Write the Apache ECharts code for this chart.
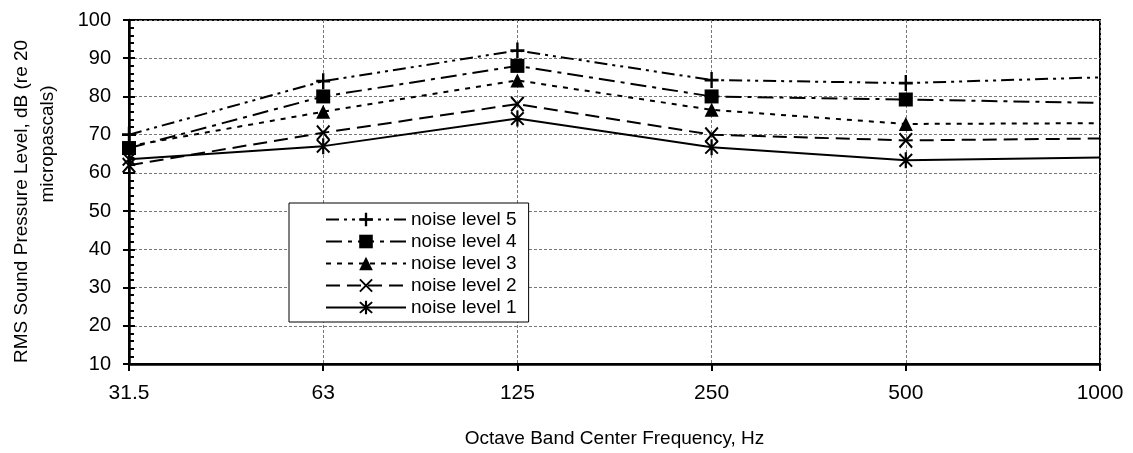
<!DOCTYPE html>
<html>
<head>
<meta charset="utf-8">
<script src="https://cdn.jsdelivr.net/npm/echarts@6/dist/echarts.min.js"></script>
<style>
html,body{margin:0;padding:0;background:#fff;}
#chart{width:1133px;height:453px;}
</style>
</head>
<body>
<div id="chart"></div>
<script>
const categories = ['31.5', '63', '125', '250', '500', '1000'];
const level5 = [70, 84, 92, 84.3, 83.5, 85];
const level4 = [66.5, 80, 88, 80, 79.2, 78.3];
const level3 = [67, 76, 84.2, 76.5, 72.8, 73];
const level2 = [62, 70.5, 78, 70, 68.5, 69];
const level1 = [63.6, 67, 74.2, 66.7, 63.3, 64];
const seriesNames = ['noise level 5', 'noise level 4', 'noise level 3', 'noise level 2', 'noise level 1'];
const yTicks = [10, 20, 30, 40, 50, 60, 70, 80, 90, 100];

const FONT = 'Liberation Sans, Arial, sans-serif';
const plusPath = 'path://M-1.2,-7L1.2,-7L1.2,-1.2L7,-1.2L7,1.2L1.2,1.2L1.2,7L-1.2,7L-1.2,1.2L-7,1.2L-7,-1.2L-1.2,-1.2Z';
const xPath = 'path://M-7,-5.6L-5.6,-7L0,-1.4L5.6,-7L7,-5.6L1.4,0L7,5.6L5.6,7L0,1.4L-5.6,7L-7,5.6L-1.4,0Z';
const starPath = 'path://M-7,-5.6L-5.6,-7L0,-1.4L5.6,-7L7,-5.6L1.4,0L7,5.6L5.6,7L0,1.4L-5.6,7L-7,5.6L-1.4,0Z M-1.1,-8L1.1,-8L1.1,8L-1.1,8Z';

function mk(vals) {
  return vals.map((v, i) => i === vals.length - 1 ? {value: v, symbol: 'none'} : v);
}
const seriesDefs = [
  {name: seriesNames[0], data: level5, symbol: plusPath, size: [14, 16], dash: [13, 5, 3, 5, 3, 5]},
  {name: seriesNames[1], data: level4, symbol: 'rect', size: 14, dash: [16, 6, 4, 6]},
  {name: seriesNames[2], data: level3, symbol: 'triangle', size: 14, dash: [5, 6]},
  {name: seriesNames[3], data: level2, symbol: xPath, size: [14, 16], dash: [14, 7]},
  {name: seriesNames[4], data: level1, symbol: starPath, size: [14, 16], dash: 'solid'}
];

const chart = echarts.init(document.getElementById('chart'), null, {renderer: 'canvas'});
chart.setOption({
  backgroundColor: '#fff',
  animation: false,
  grid: {left: 129, right: 33, top: 20, bottom: 88, show: true, borderColor: '#000', borderWidth: 2, backgroundColor: 'transparent'},
  legend: {
    orient: 'vertical', left: 289, top: 203,
    data: seriesNames,
    backgroundColor: '#fff', borderColor: '#000', borderWidth: 1,
    padding: [7, 12, 5, 36], itemGap: 3, itemWidth: 80, itemHeight: 17,
    textStyle: {fontFamily: FONT, fontSize: 19, color: '#000'}
  },
  xAxis: {
    type: 'category', data: categories, boundaryGap: false,
    axisLine: {lineStyle: {color: '#000', width: 2.5}},
    axisTick: {show: true, length: 7, lineStyle: {color: '#000', width: 2}},
    axisLabel: {fontFamily: FONT, fontSize: 21, color: '#000', margin: 19},
    splitLine: {show: true, lineStyle: {color: '#777', width: 1, type: [3, 2]}},
    name: 'Octave Band Center Frequency, Hz', nameLocation: 'middle', nameGap: 65,
    nameTextStyle: {fontFamily: FONT, fontSize: 19, color: '#000'}
  },
  yAxis: [
    {
      type: 'value', min: 10, max: 100, interval: 10,
      axisLine: {show: true, lineStyle: {color: '#000', width: 2.5}},
      axisTick: {show: true, length: 6, lineStyle: {color: '#000', width: 2}},
      axisLabel: {fontFamily: FONT, fontSize: 20, color: '#000', margin: 18},
      splitLine: {show: true, lineStyle: {color: '#777', width: 1, type: [3, 2]}}
    },
    {
      type: 'value', min: 10, max: 100, interval: 10, position: 'left',
      axisLine: {show: false},
      axisTick: {show: true, inside: true, length: 6, lineStyle: {color: '#000', width: 2}},
      minorTick: {show: true, splitNumber: 5, length: 5, lineStyle: {color: '#000', width: 2}},
      axisLabel: {show: false},
      splitLine: {show: false}
    }
  ],
  series: seriesDefs.map(d => ({
    name: d.name, type: 'line', data: mk(d.data),
    symbol: d.symbol, symbolSize: d.size, showAllSymbol: true,
    itemStyle: {color: '#000'},
    lineStyle: {color: '#000', width: 2, type: d.dash},
    emphasis: {disabled: true}
  })),
  graphic: [
    {type: 'text', x: 22, y: 363, rotation: Math.PI / 2,
     style: {text: 'RMS Sound Pressure Level, dB (re 20', fontFamily: FONT, fontSize: 19, fill: '#000', align: 'left', verticalAlign: 'middle'}},
    {type: 'text', x: 48, y: 144, rotation: Math.PI / 2,
     style: {text: 'micropascals)', fontFamily: FONT, fontSize: 19, fill: '#000', align: 'center', verticalAlign: 'middle'}}
  ]
});
</script>
</body>
</html>
